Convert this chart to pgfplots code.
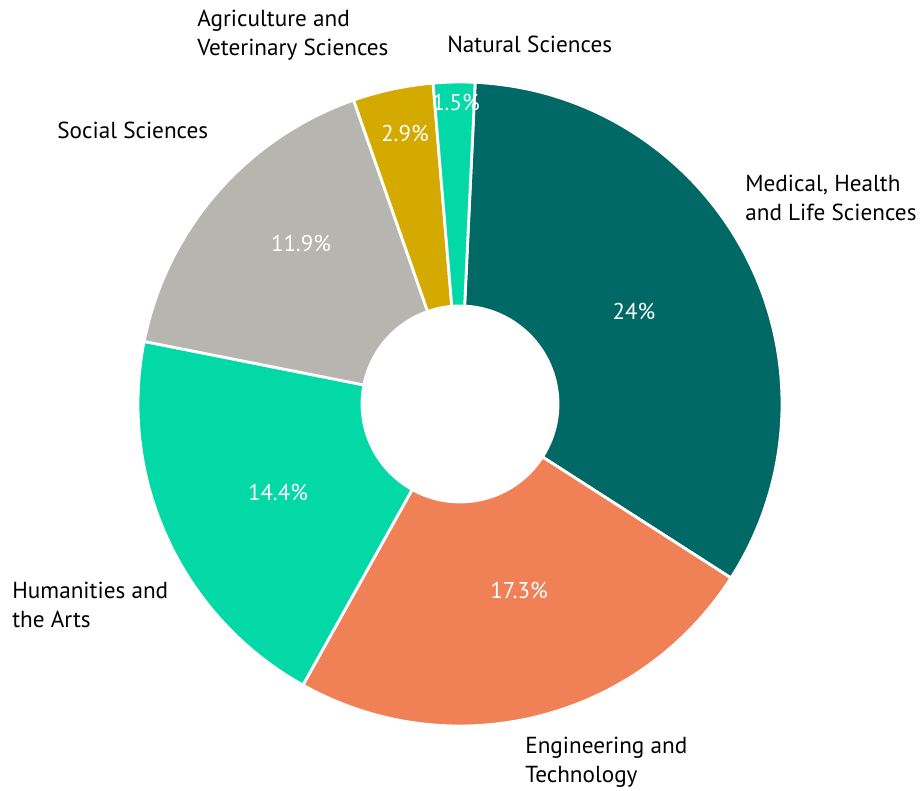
\documentclass[border=0pt]{standalone}
\usepackage{pgfplots}
\pgfplotsset{compat=1.18}
\usepackage{fontspec}
\setmainfont{PT Sans}
\definecolor{cmed}{RGB}{0,104,101}
\definecolor{ceng}{RGB}{240,128,86}
\definecolor{cmint}{RGB}{2,217,166}
\definecolor{cgray}{RGB}{183,181,176}
\definecolor{cgold}{RGB}{212,170,0}
\def\total{72}
\def\R{6.44}
\def\r{1.96}
\newcommand\donutwedge[2]{%
  \pgfmathsetmacro\bb{\aa-#1*360/\total}%
  \edef\tmp{\noexpand\fill[#2, draw=white, line width=1.6pt, line join=miter]
    (axis cs:{\r*cos(\aa)},{\r*sin(\aa)}) -- (axis cs:{\R*cos(\aa)},{\R*sin(\aa)})
    arc[start angle=\aa, end angle=\bb, radius=\R cm]
    -- (axis cs:{\r*cos(\bb)},{\r*sin(\bb)})
    arc[start angle=\bb, end angle=\aa, radius=\r cm] -- cycle;}%
  \tmp
  \xdef\aa{\bb}}
\begin{document}
\begin{tikzpicture}
\begin{axis}[x=1cm, y=1cm, xmin=-9.2, xmax=9.2, ymin=-7.72, ymax=8.08,
  hide axis, clip=false]
\path (axis cs:-9.2,-7.72) rectangle (axis cs:9.2,8.08);
\xdef\aa{87.3}
\donutwedge{24}{cmed}
\donutwedge{17.3}{ceng}
\donutwedge{14.4}{cmint}
\donutwedge{11.9}{cgray}
\donutwedge{2.9}{cgold}
\donutwedge{1.5}{cmint}
\begin{scope}[every node/.style={font=\fontsize{13}{16.5}\selectfont, text=white}]
\node at (axis cs:3.48,1.86) {24\%};
\node at (axis cs:1.18,-3.72) {17.3\%};
\node at (axis cs:-3.64,-1.76) {14.4\%};
\node at (axis cs:-3.18,3.22) {11.9\%};
\node at (axis cs:-1.1,5.42) {2.9\%};
\node at (axis cs:-0.08,6.04) {1.5\%};
\end{scope}
\begin{scope}[every node/.style={font=\fontsize{13.2}{16.5}\selectfont, text=black, anchor=west, align=left, inner sep=0pt}]
\node at (axis cs:-5.26,7.38) {Agriculture and\\Veterinary Sciences};
\node at (axis cs:-0.26,7.2) {Natural Sciences};
\node at (axis cs:5.7,4.12) {Medical, Health\\and Life Sciences};
\node at (axis cs:-8.06,5.48) {Social Sciences};
\node at (axis cs:-8.96,-4.02) {Humanities and\\the Arts};
\node at (axis cs:1.3,-7.16) {Engineering and\\Technology};
\end{scope}
\end{axis}
\end{tikzpicture}
\end{document}
